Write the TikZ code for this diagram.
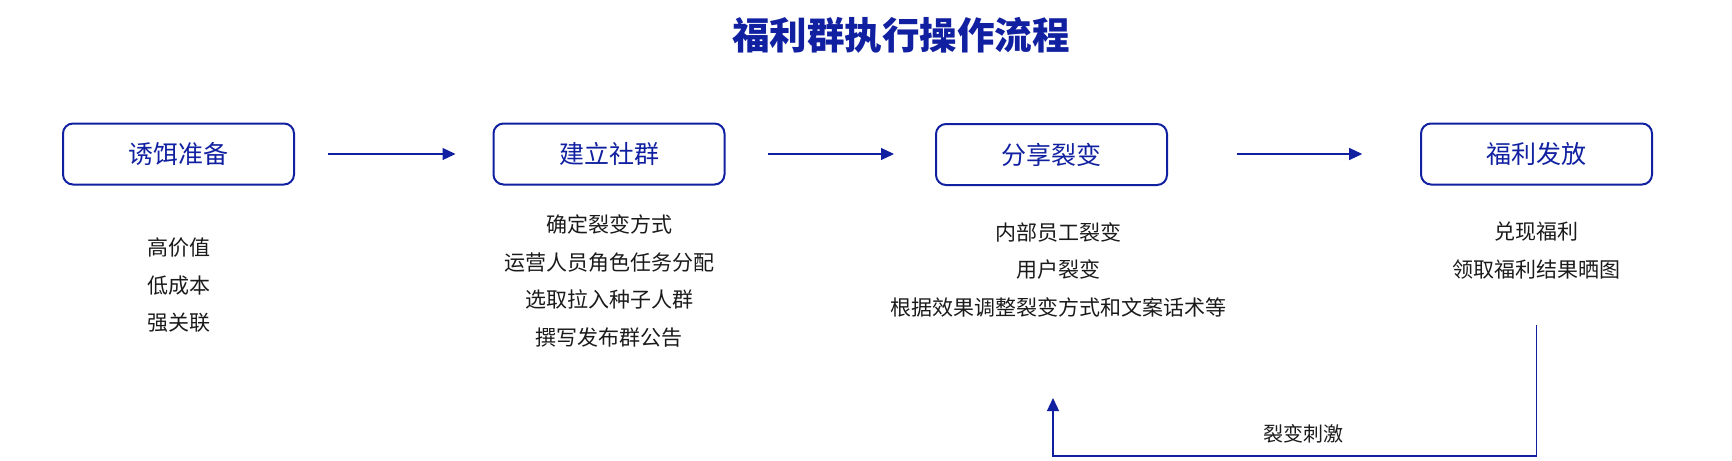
\documentclass[tikz,border=0pt]{standalone}
\usepackage{fontspec}
\setmainfont{Noto Sans CJK SC}
\usepackage{xcolor}
\definecolor{acc}{HTML}{1020A0}
\definecolor{ink}{HTML}{1A1A1A}
\usetikzlibrary{arrows.meta,positioning}
\tikzset{
  >={Triangle[length=6.5pt,width=6pt]},
  box/.style={draw=acc,rounded corners=5pt,line width=1pt,minimum width=115.5pt,minimum height=30.5pt,inner sep=0pt,font=\fontsize{12.5pt}{15pt}\selectfont,text=acc},
  lst/.style={font=\fontsize{10.5pt}{18.8pt}\selectfont,text=ink,align=center,inner sep=0pt},
  arr/.style={->,draw=acc,line width=0.6pt},
}
\begin{document}
\begin{tikzpicture}[x=0.5pt,y=-0.5pt]
\useasboundingbox (0,0) rectangle (1732,460);
\node[font=\fontsize{18.75pt}{22pt}\selectfont\bfseries,text=acc] (title) at (901,35) {福利群执行操作流程};
% the four steps
\node[box] (b1) at (178.5,154) {诱饵准备};
\node[box] (b2) at (609,154) {建立社群};
\node[box] (b3) at (1051.5,154.5) {分享裂变};
\node[box] (b4) at (1536.5,154) {福利发放};
\node[lst,below=26pt of b1] (l1) {高价值\\低成本\\强关联};
\node[lst,below=14.5pt of b2] (l2) {确定裂变方式\\运营人员角色任务分配\\选取拉入种子人群\\撰写发布群公告};
\node[lst,below=18pt of b3,xshift=3.5pt] (l3) {内部员工裂变\\用户裂变\\根据效果调整裂变方式和文案话术等};
\node[lst,below=18.2pt of b4] (l4) {兑现福利\\领取福利结果晒图};
\draw[arr,shorten <=16.5pt,shorten >=18.5pt] (b1) -- (b2);
\draw[arr,shorten <=21pt,shorten >=20.5pt] (b2.east) -- (b3.west |- b2.east);
\draw[arr,shorten <=34.3pt,shorten >=28.9pt] (b3.east |- b4.west) -- (b4.west);
% loop back
\coordinate (fbs) at (1536.5,325);
\coordinate (fbe) at (1053,398);
\draw[arr] (fbs) -- ++(0,131) -| (fbe);
\node[font=\fontsize{10pt}{12pt}\selectfont,text=ink] (fblab) at (1303,434) {裂变刺激};
\end{tikzpicture}
\end{document}
